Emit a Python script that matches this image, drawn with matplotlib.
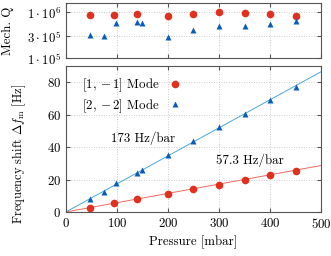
import matplotlib
matplotlib.use("Agg")
import matplotlib.pyplot as plt
import numpy as np

plt.rcParams['font.family'] = 'serif'
plt.rcParams['font.serif'] = ['cmr10']
plt.rcParams['mathtext.fontset'] = 'cm'
plt.rcParams['axes.formatter.use_mathtext'] = True
plt.rcParams['font.size'] = 9.3

# mode [1,-1]
p_1 = [47, 95, 140, 200, 250, 300, 350, 400, 450]
q_1 = [8.9e5, 8.9e5, 9.2e5, 8.2e5, 9.2e5, 1.02e6, 9.5e5, 9.0e5, 8.4e5]
df_1 = [2.3, 5.3, 7.8, 11.1, 14.2, 16.8, 19.7, 22.6, 25.4]
# mode [2,-2]
p_2 = [48, 74, 99, 140, 150, 200, 250, 300, 350, 400, 450]
q_2 = [3.2e5, 3.0e5, 5.9e5, 6.3e5, 5.8e5, 2.95e5, 4.2e5, 5.0e5, 5.1e5, 5.5e5, 6.6e5]
df_2 = [8.0, 12.5, 17.6, 24.2, 26.1, 35.1, 43.5, 52.1, 60.7, 69.1, 77.3]
# fitted slopes in Hz/bar
slope_1 = 57.3
slope_2 = 173

red = '#e0301e'
blue = '#0a5cb8'
red_line = '#f06a60'
blue_line = '#4aa8e0'

fig = plt.figure(figsize=(3.31, 2.56), dpi=100)
ax1 = fig.add_axes([0.199, 0.773, 0.771, 0.215])
ax2 = fig.add_axes([0.199, 0.172, 0.771, 0.570])

for ax in (ax1, ax2):
    ax.tick_params(direction='in', top=True, right=True, length=3, color='#555555')
    ax.grid(True, linestyle=(0, (1, 2)), color='#bbbbbb', linewidth=0.6)
    ax.set_axisbelow(True)
    for s in ax.spines.values():
        s.set_color('#555555')
        s.set_linewidth(0.8)

ax1.set_yscale('log')
ax1.plot(p_1, q_1, 'o', color=red, ms=5.5, mec='none')
ax1.plot(p_2, q_2, '^', color=blue, ms=4.8, mec='none')
ax1.set_xlim(0, 500)
ax1.set_ylim(1e5, 1.6e6)
ax1.set_yticks([1e5, 3e5, 1e6])
ax1.set_yticklabels([r'$1\cdot10^5$', r'$3\cdot10^5$', r'$1\cdot10^6$'])
ax1.minorticks_off()
ax1.set_xticks([0, 100, 200, 300, 400, 500])
ax1.set_xticklabels([])
ax1.set_ylabel('Mech. Q')
ax1.yaxis.set_label_coords(-0.205, 0.5)

xf = np.array([0, 500])
ax2.plot(xf, slope_1 / 1000 * xf, color=red_line, lw=0.7)
ax2.plot(xf, slope_2 / 1000 * xf, color=blue_line, lw=0.7)
ax2.plot(p_1, df_1, 'o', color=red, ms=5.5, mec='none', label=r'$[1,-1]$ Mode')
ax2.plot(p_2, df_2, '^', color=blue, ms=4.8, mec='none', label=r'$[2,-2]$ Mode')
ax2.set_xlim(0, 500)
ax2.set_ylim(0, 90)
ax2.set_yticks([0, 20, 40, 60, 80])
ax2.set_xticks([0, 100, 200, 300, 400, 500])
ax2.set_xlabel('Pressure [mbar]', labelpad=3)
ax2.set_ylabel(r'Frequency shift $\Delta f_\mathrm{m}$ [Hz]', fontsize=9)
ax2.yaxis.set_label_coords(-0.15, 0.40)
ax2.text(151, 45.5, '173 Hz/bar', ha='center', va='center')
ax2.text(361, 32, '57.3 Hz/bar', ha='center', va='center')
ax2.legend(loc='upper left', bbox_to_anchor=(0.063, 0.93), frameon=False,
           markerfirst=False, handlelength=1, handletextpad=0.7,
           borderaxespad=0, borderpad=0, labelspacing=0.25)

fig.savefig('out.png', dpi=100)
